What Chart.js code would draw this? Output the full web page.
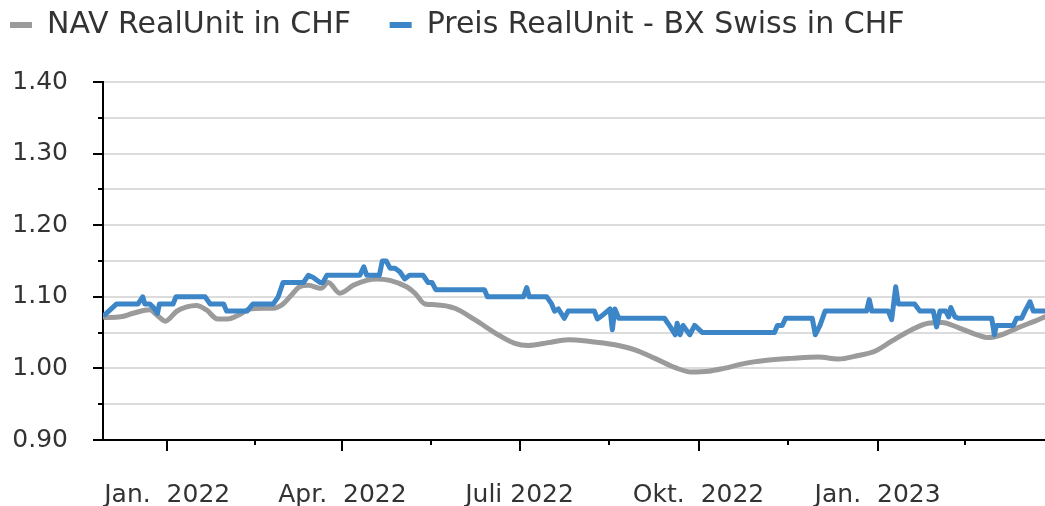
<!DOCTYPE html>
<html lang="de">
<head>
  <meta charset="UTF-8">
  <title>RealUnit NAV und Preis</title>
  <script src="https://cdn.jsdelivr.net/npm/chart.js"></script>
  <style>
    * {
      margin: 0;
      padding: 0;
      box-sizing: border-box;
    }

    body {
      background: #ffffff;
      width: 1045px;
      height: 506px;
      overflow: hidden;
    }
  </style>
</head>
<body>
  <canvas id="realunitChart" width="1045" height="506"></canvas>

  <script>
    // Tage ab 1. Jan. 2022
    const navDays = [-32, -24, -17.5, -9, -5.5, -1, 5, 10, 15, 20, 26, 31, 37, 42.5, 49, 54.5, 59.5, 64, 68, 72.5,
      79, 82.7, 88.7, 95.6, 102.4, 107.6, 114.4, 123, 127.3, 132.4, 137.5, 147.8, 158, 170, 178.6, 185.5, 195.8,
      206, 216.3, 230, 240.3, 250.6, 261, 269.4, 278, 286, 296.8, 307, 320.8, 334.5, 344.8, 355, 363.6, 372.2,
      382.5, 391, 398, 406.4, 415, 421.8, 428.7, 437.2, 445.8, 451];
    const navValues = [1.071, 1.072, 1.077, 1.082, 1.075, 1.066, 1.080, 1.086, 1.088, 1.082, 1.069, 1.069, 1.075,
      1.083, 1.084, 1.084, 1.090, 1.103, 1.114, 1.116, 1.112, 1.120, 1.105, 1.116, 1.123, 1.125, 1.123, 1.114,
      1.105, 1.090, 1.089, 1.084, 1.068, 1.047, 1.035, 1.032, 1.036, 1.040, 1.038, 1.033, 1.026, 1.014, 1.001,
      0.995, 0.996, 1.000, 1.007, 1.011, 1.014, 1.016, 1.013, 1.018, 1.024, 1.038, 1.054, 1.063, 1.064, 1.057,
      1.048, 1.043, 1.047, 1.057, 1.066, 1.072];

    const priceDays = [-32, -26, -15, -12.6, -11.5, -9, -7, -5, -4, 3, 4.5, 19.5, 22, 29, 30.5, 41, 44, 54.5, 57,
      59.5, 70, 72.5, 75, 78.5, 80, 82, 99, 101, 102.5, 109, 110.5, 112.5, 114.5, 117, 119.5, 122, 124.5, 131.5,
      134, 136, 138, 163, 164.5, 183, 184.7, 186, 195, 197.5, 199, 201, 204, 206, 219.5, 221, 224, 227.5, 228.7,
      230, 232, 255.5, 258.5, 261, 262, 263.5, 265, 268.5, 271, 275, 312, 313.5, 316, 317.7, 331.4, 333, 335.4,
      338, 359.3, 360.7, 362, 370.5, 372.2, 374.3, 375.6, 384, 386.7, 393.6, 395.3, 397, 400, 401.5, 402.6, 404.7,
      406.4, 423.6, 425, 426, 434.7, 436.4, 439, 440.7, 443.3, 445, 451];
    const priceValues = [1.075, 1.09, 1.09, 1.10, 1.09, 1.09, 1.085, 1.077, 1.09, 1.09, 1.10, 1.10, 1.09, 1.09,
      1.08, 1.08, 1.09, 1.09, 1.10, 1.12, 1.12, 1.13, 1.127, 1.12, 1.12, 1.13, 1.13, 1.142, 1.13, 1.13, 1.15,
      1.15, 1.14, 1.14, 1.135, 1.125, 1.13, 1.13, 1.12, 1.12, 1.11, 1.11, 1.10, 1.10, 1.113, 1.10, 1.10, 1.09,
      1.08, 1.083, 1.07, 1.08, 1.08, 1.069, 1.075, 1.083, 1.054, 1.083, 1.07, 1.07, 1.058, 1.047, 1.063, 1.047,
      1.06, 1.047, 1.06, 1.05, 1.05, 1.06, 1.06, 1.07, 1.07, 1.047, 1.06, 1.08, 1.08, 1.096, 1.08, 1.08, 1.068,
      1.114, 1.09, 1.09, 1.08, 1.08, 1.058, 1.08, 1.08, 1.072, 1.085, 1.072, 1.07, 1.07, 1.047, 1.06, 1.06,
      1.07, 1.07, 1.08, 1.093, 1.08, 1.08];

    // Quartalsanfang und Quartalsmitte
    const tickDays = [0, 45, 90, 135.5, 181, 227, 273, 319, 365, 410];
    const tickLabels = ['Jan.  2022', '', 'Apr.  2022', '', 'Juli 2022', '', 'Okt.  2022', '', 'Jan.  2023', ''];

    const seriesLabels = ['NAV RealUnit in CHF', 'Preis RealUnit - BX Swiss in CHF'];

    Chart.defaults.font.family = "'DejaVu Sans', Verdana, sans-serif";
    Chart.defaults.color = '#333333';

    // kurze und lange Striche an den Achsen
    const axisTicks = {
      id: 'axisTicks',
      afterDraw(chart) {
        const { ctx, chartArea: area, scales: { x, y } } = chart;
        ctx.save();
        ctx.strokeStyle = '#000000';
        ctx.lineWidth = 2;
        ctx.beginPath();
        y.ticks.forEach((t, i) => {
          const py = Math.round(y.getPixelForValue(t.value));
          const len = i % 2 === 0 ? 10 : 5;
          ctx.moveTo(area.left - len, py);
          ctx.lineTo(area.left, py);
        });
        x.ticks.forEach((t, i) => {
          const px = Math.round(x.getPixelForValue(t.value));
          const len = tickLabels[i] ? 11 : 5;
          ctx.moveTo(px, area.bottom);
          ctx.lineTo(px, area.bottom + len);
        });
        ctx.stroke();
        ctx.restore();
      }
    };

    const legendSpace = {
      id: 'legendSpace',
      beforeInit(chart) {
        if (!chart.legend) return;
        const fit = chart.legend.fit;
        chart.legend.fit = function () {
          fit.call(this);
          this.height = 82;
        };
      }
    };

    new Chart(document.getElementById('realunitChart'), {
      type: 'line',
      data: {
        datasets: [{
          label: seriesLabels[0],
          data: navDays.map((d, i) => ({ x: d, y: navValues[i] })),
          borderColor: '#9b9b9b',
          borderWidth: 5,
          borderJoinStyle: 'round',
          borderCapStyle: 'round',
          pointRadius: 0,
          cubicInterpolationMode: 'monotone',
          order: 1
        }, {
          label: seriesLabels[1],
          data: priceDays.map((d, i) => ({ x: d, y: priceValues[i] })),
          borderColor: '#3c86c8',
          borderWidth: 5,
          borderJoinStyle: 'round',
          borderCapStyle: 'round',
          pointRadius: 0,
          tension: 0,
          order: 0
        }]
      },
      options: {
        responsive: false,
        animation: false,
        layout: { padding: 0 },
        plugins: {
          tooltip: { enabled: false },
          legend: {
            position: 'top',
            align: 'start',
            labels: {
              font: { size: 30 },
              color: '#333333',
              boxWidth: 22,
              boxHeight: 6,
              padding: 10,
              sort: (a, b) => a.datasetIndex - b.datasetIndex,
              generateLabels(chart) {
                const items = Chart.defaults.plugins.legend.labels.generateLabels(chart);
                return items.map(it => ({
                  ...it,
                  lineWidth: 0,
                  fillStyle: it.strokeStyle,
                  text: it.datasetIndex === 0 ? it.text + '   ' : it.text
                }));
              }
            }
          }
        },
        scales: {
          x: {
            type: 'linear',
            min: -33,
            max: 451,
            afterBuildTicks: scale => {
              scale.ticks = tickDays.map(v => ({ value: v }));
            },
            afterFit: scale => {
              scale.height = 66;
            },
            ticks: {
              autoSkip: false,
              maxRotation: 0,
              padding: 40,
              font: { size: 25 },
              color: '#333333',
              callback: (v, i) => tickLabels[i]
            },
            grid: { drawOnChartArea: false, drawTicks: false },
            border: { color: '#000000', width: 2 }
          },
          y: {
            min: 0.9,
            max: 1.4,
            afterFit: scale => {
              scale.width = 103;
            },
            ticks: {
              stepSize: 0.05,
              padding: 35,
              font: { size: 25 },
              color: '#333333',
              callback: (v, i) => i % 2 === 0 ? Number(v).toFixed(2) : ''
            },
            grid: { color: '#dcdcdc', lineWidth: 2, drawTicks: false },
            border: { color: '#000000', width: 2 }
          }
        }
      },
      plugins: [axisTicks, legendSpace]
    });
  </script>
</body>
</html>
